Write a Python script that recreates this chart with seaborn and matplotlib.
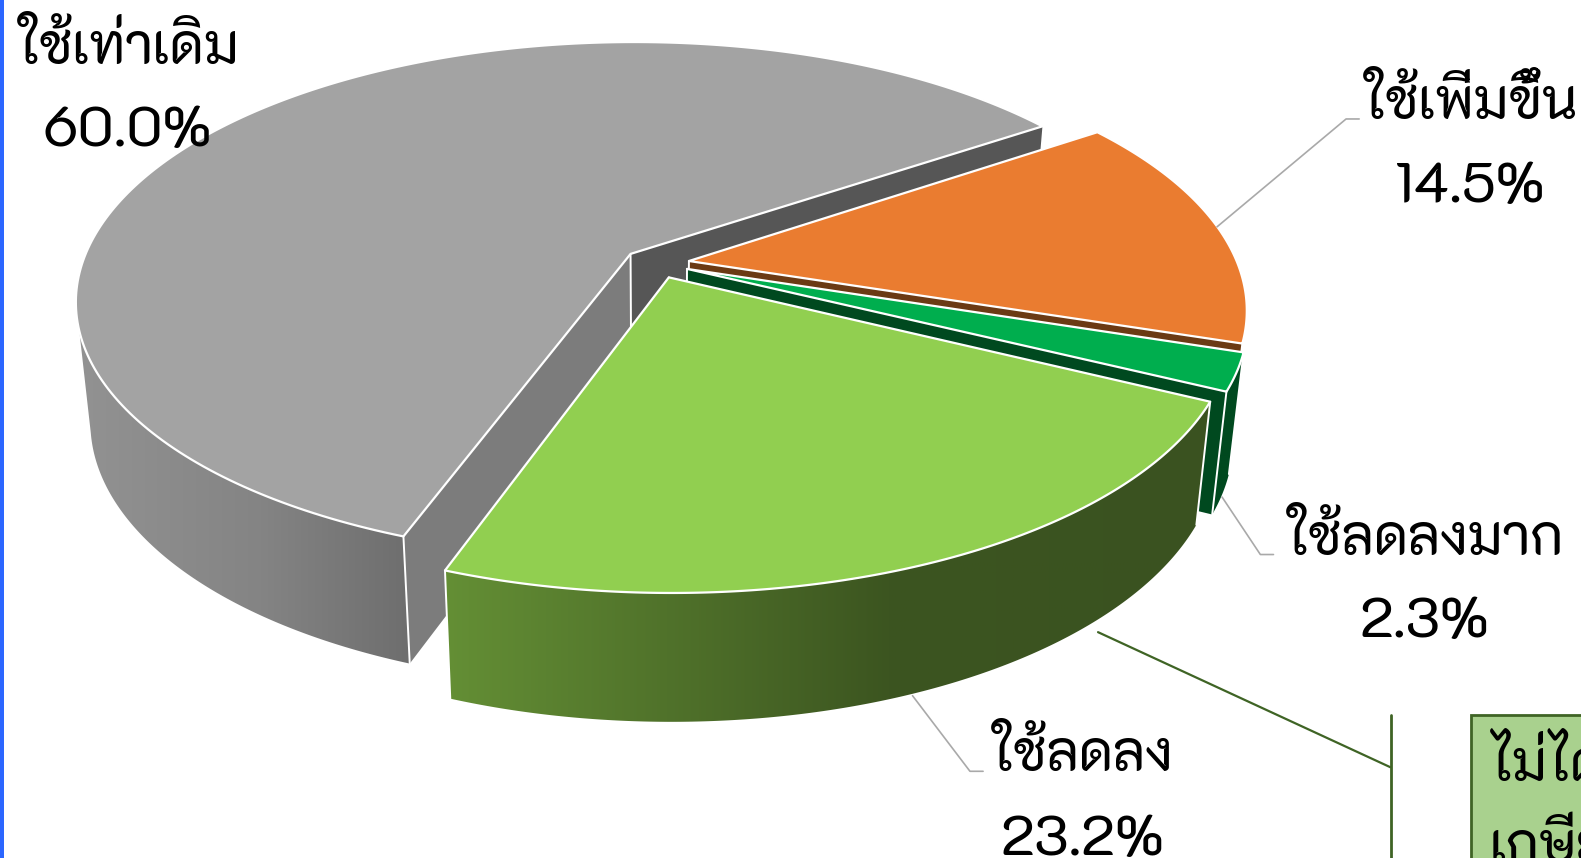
import numpy as np
import matplotlib
matplotlib.use("Agg")
import matplotlib.pyplot as plt
import seaborn as sns
from matplotlib.patches import Polygon, Rectangle
from matplotlib.colors import LinearSegmentedColormap

# ---- data ----
categories = ["ใช้เท่าเดิม", "ใช้ลดลง", "ใช้ลดลงมาก", "ใช้เพิ่มขึ้น"]
shares = [60.0, 23.2, 2.3, 14.5]
top_colors = ["#a3a3a3", "#91cf50", "#00ae4e", "#ea7c30"]
side_colors = ["#565656", "#3a5220", "#00491f", "#6b3a14"]
box_lines = ["ไม่ได้", "เกษียณ"]

sns.set_theme(style="white")
plt.rcParams["font.family"] = ["K2D", "DejaVu Sans"]
plt.rcParams["font.weight"] = "normal"
palette = sns.color_palette(top_colors)

W, H = 1568, 851
fig = plt.figure(figsize=(15.81, 8.58), dpi=100)
ax = fig.add_axes([0, 0, 1, 1])
ax.set_axis_off()

# perspective model of the tilted pie
PX, PY, A, B, K = 651.0, 261.0, 544.0, 251.0, 0.18
EXPLODE, START = 0.06, 34.2
BX, BY, BD = 0.975, 1.03, 118.0
FRONT_TOP, FRONT_LOW, FRONT_END = 197.0, 193.0, 365.0


def project(u, v):
    w = 1 + K * v
    return PX + A * u / w, PY - B * v / w


def lower(pts):
    return np.column_stack([PX + BX * (pts[:, 0] - PX), PY + BY * (pts[:, 1] - PY) + BD])


def geometry(t0, t1, a0=None, a1=None):
    mid = np.radians((t0 + t1) / 2)
    ou, ov = EXPLODE * np.cos(mid), EXPLODE * np.sin(mid)
    th = np.radians(np.linspace(t0 if a0 is None else a0, t1 if a1 is None else a1, 240))
    arc = np.column_stack(project(ou + np.cos(th), ov + np.sin(th)))
    apex = np.array(project(ou, ov))
    return apex, arc


def gradient_wall(poly, stops, z):
    patch = Polygon(poly, closed=True, fc="none", ec="none", transform=ax.transData, zorder=z)
    ax.add_patch(patch)
    cmap = LinearSegmentedColormap.from_list("w", stops)
    x0, x1 = poly[:, 0].min(), poly[:, 0].max()
    y0, y1 = poly[:, 1].min(), poly[:, 1].max()
    im = ax.imshow(np.linspace(0, 1, 256)[None, :], extent=(x0, x1, y1, y0), aspect="auto",
                   cmap=cmap, zorder=z)
    im.set_clip_path(patch)


edges = START + np.concatenate([[0], np.cumsum(np.array(shares) * 3.6)])
wall_stops = {
    0: [(0, "#929292"), (0.55, "#848484"), (1, "#6e6e6e")],
    1: [(0, "#648f35"), (0.58, "#3c5520"), (1, "#3a5220")],
    2: [(0, "#00491f"), (1, "#00491f")],
    3: [(0, "#6b3a14"), (1, "#6b3a14")],
}

z = 2
for i in [0, 3, 2, 1]:
    t0, t1 = edges[i], edges[i + 1]
    apex, arc = geometry(t0, t1)
    low_arc, low_apex = lower(arc), lower(apex[None, :])[0]
    for end, low_end, side in ((arc[0], low_arc[0], side_colors[i]),
                               (arc[-1], low_arc[-1], "#7c7c7c" if i == 0 else side_colors[i])):
        face = np.array([apex, end, low_end, low_apex])
        ax.add_patch(Polygon(face, closed=True, fc=side, ec="none", zorder=z))
        z += 1
    ax.plot([apex[0], low_apex[0]], [apex[1], low_apex[1]], color="white", lw=1.4, zorder=z)
    z += 1
    _, front_top = geometry(t0, t1, max(t0, FRONT_TOP), min(t1, FRONT_END))
    _, front_low = geometry(t0, t1, max(t0, FRONT_LOW), min(t1, FRONT_END))
    gradient_wall(np.vstack([front_top, lower(front_low)[::-1]]), wall_stops[i], z)
    z += 1
    for p, q, ang in ((arc[0], low_arc[0], t0), (arc[-1], low_arc[-1], t1)):
        if FRONT_LOW <= ang <= FRONT_END:
            ax.plot([p[0], q[0]], [p[1], q[1]], color="white", lw=1.4, zorder=z)
    z += 1
    ax.add_patch(Polygon(np.vstack([apex, arc]), closed=True, fc=palette[i], ec="white",
                         lw=1.6, joinstyle="round", zorder=z))
    z += 1

# leader lines
LEADER = "#a9a9a9"
ax.plot([1207, 1335, 1348], [225, 118, 118], color=LEADER, lw=1.2, zorder=z)
ax.plot([1212, 1250, 1263], [493, 550, 550], color=LEADER, lw=1.2, zorder=z)
ax.plot([905, 962, 975], [690, 765, 765], color=LEADER, lw=1.2, zorder=z)

# labels
label_pos = [(127, 63, 126, 145), (1073, 765, 1073, 848), (1413, 550, 1413, 632), (1458, 118, 1458, 200)]
FS = 40
for name, share, (x1, y1, x2, y2) in zip(categories, shares, label_pos):
    ax.text(x1, y1, name, ha="center", va="baseline", fontsize=FS, color="black", zorder=z + 1)
    ax.text(x2, y2, f"{share:.1f}%", ha="center", va="baseline", fontsize=FS, color="black", zorder=z + 1)

# connector and note box
NOTE = "#3f6425"
ax.plot([1089, 1379], [627, 761], color=NOTE, lw=1.6, zorder=z)
ax.plot([1380, 1380], [709, 851], color=NOTE, lw=2, zorder=z)
ax.add_patch(Rectangle((1459, 709), 130, 160, fc="#a9d18e", ec=NOTE, lw=2, zorder=z))
ax.text(1477, 775, box_lines[0], ha="left", va="baseline", fontsize=FS, color="black", zorder=z + 1, clip_on=True)
ax.text(1477, 856, box_lines[1], ha="left", va="baseline", fontsize=FS, color="black", zorder=z + 1, clip_on=True)

# blue strip at the left edge
ax.add_patch(Rectangle((0, 0), 4, H, fc="#2b66ff", ec="none", zorder=z + 2))

ax.set_xlim(0, W)
ax.set_ylim(H, 0)
fig.savefig("out.png", dpi=100, facecolor="white")
